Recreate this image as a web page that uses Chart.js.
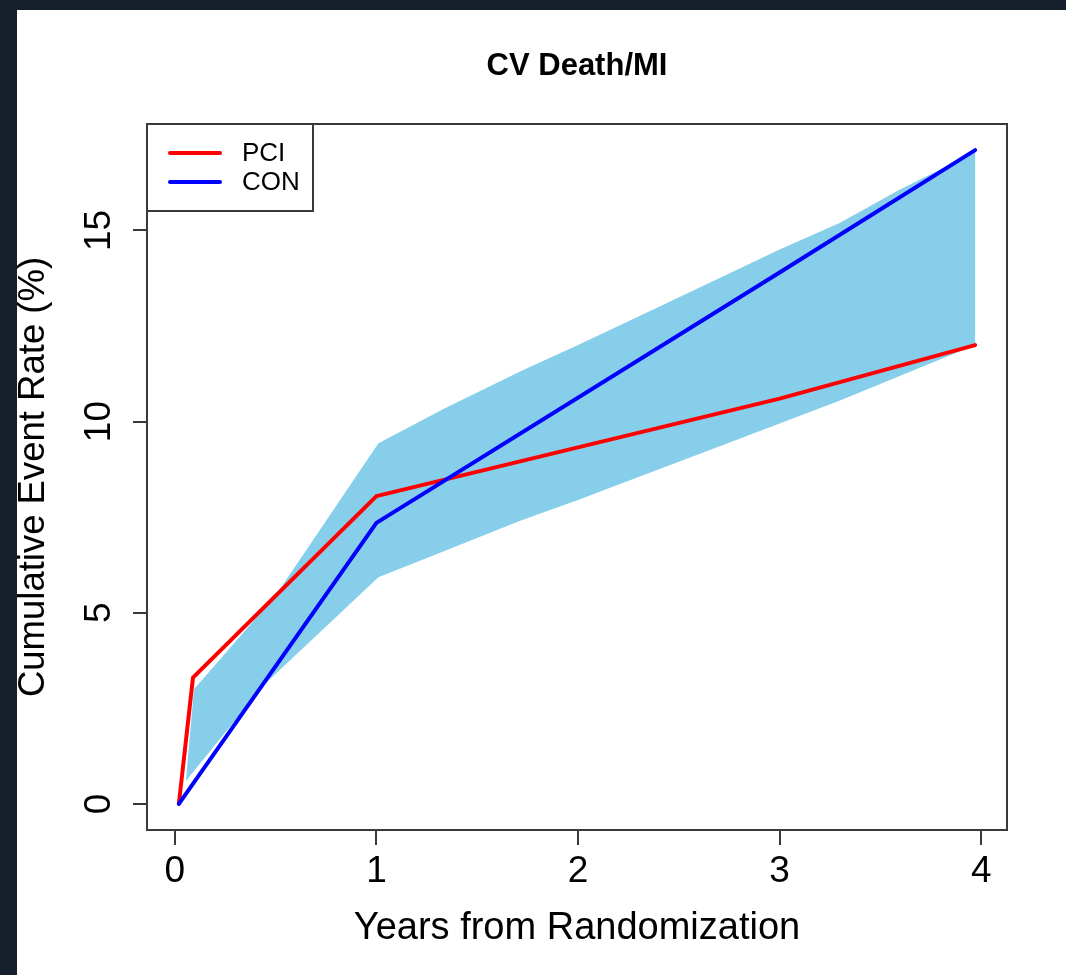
<!DOCTYPE html>
<html>
<head>
<meta charset="utf-8">
<title>CV Death/MI</title>
<script src="https://cdn.jsdelivr.net/npm/chart.js@4.4.1/dist/chart.umd.min.js"></script>
<style>
  html, body { margin: 0; padding: 0; width: 1066px; height: 975px; overflow: hidden; background: #16202d; }
  #sheet { position: absolute; left: 17px; top: 10px; right: 0; bottom: 0; background: #ffffff; }
  #wrap { position: absolute; left: 0; top: 0; width: 1066px; height: 975px; }
</style>
</head>
<body>
<div id="sheet"></div>
<div id="wrap"><canvas id="cvChart" width="1066" height="975"></canvas></div>
<script>
// Texts
const chartTitle = "CV Death/MI";
const xTitle = "Years from Randomization";
const yTitle = "Cumulative Event Rate (%)";

// Axes (R style: data range + 4% each side)
const xTicks = [0, 1, 2, 3, 4];
const yTicks = [0, 5, 10, 15];
const xLimits = [-0.138, 4.128];
const yLimits = [-0.684, 17.784];

// Series
const seriesNames = ["PCI", "CON"];
const pciYears = [0.02, 0.09, 1.0, 3.0, 3.97];
const pciRates = [0, 3.3, 8.05, 10.6, 12.0];
const conYears = [0.02, 1.0, 3.0, 3.97];
const conRates = [0, 7.35, 13.9, 17.1];

// Shaded band (upper and lower edges)
const bandUpperYears = [0.095, 0.5, 1.01, 1.34, 1.71, 2.0, 2.3, 2.7, 3.0, 3.3, 3.59, 3.97];
const bandUpperRates = [3.0, 5.45, 9.43, 10.35, 11.3, 12.0, 12.75, 13.75, 14.5, 15.2, 16.05, 17.05];
const bandLowerYears = [0.055, 0.44, 1.01, 1.35, 1.71, 2.0, 2.3, 2.7, 3.0, 3.3, 3.97];
const bandLowerRates = [0.6, 3.1, 5.93, 6.64, 7.4, 7.95, 8.55, 9.35, 9.95, 10.55, 12.0];

const FONT = "'Liberation Sans', Arial, Helvetica, sans-serif";
const AXIS_COLOR = "#3a3a3a";

function toPoints(xs, ys) {
  return xs.map((x, i) => ({ x: x, y: ys[i] }));
}

// polygon: upper edge left->right, then lower edge right->left
const bandPolygon = toPoints(bandUpperYears, bandUpperRates)
  .concat(toPoints(bandLowerYears, bandLowerRates).reverse());

// Box, title, rotated y tick labels and legend, drawn like base R graphics
const rDecor = {
  id: "rDecor",
  afterDraw(chart) {
    const ctx = chart.ctx;
    const a = chart.chartArea;
    const yScale = chart.scales.y;
    ctx.save();

    // plot box
    ctx.strokeStyle = AXIS_COLOR;
    ctx.lineWidth = 2;
    ctx.strokeRect(a.left, a.top, a.right - a.left, a.bottom - a.top);

    // main title
    ctx.fillStyle = "#000";
    ctx.font = "bold 31px " + FONT;
    ctx.textAlign = "center";
    ctx.textBaseline = "alphabetic";
    ctx.fillText(chartTitle, (a.left + a.right) / 2, 75);

    // y tick labels, vertical
    ctx.font = "37px " + FONT;
    yTicks.forEach((v) => {
      ctx.save();
      ctx.translate(110, yScale.getPixelForValue(v));
      ctx.rotate(-Math.PI / 2);
      ctx.fillText(String(v), 0, 0);
      ctx.restore();
    });

    // legend box top-left
    const boxW = 166, boxH = 87;
    ctx.fillStyle = "#fff";
    ctx.fillRect(a.left, a.top, boxW, boxH);
    ctx.strokeRect(a.left, a.top, boxW, boxH);
    ctx.font = "26px " + FONT;
    ctx.textAlign = "left";
    ctx.textBaseline = "middle";
    const lineDatasets = chart.data.datasets.filter((d) => seriesNames.includes(d.label));
    lineDatasets.forEach((d, i) => {
      const ly = a.top + 29 + i * 29;
      ctx.strokeStyle = d.borderColor;
      ctx.lineWidth = 4;
      ctx.lineCap = "round";
      ctx.beginPath();
      ctx.moveTo(a.left + 23, ly);
      ctx.lineTo(a.left + 73, ly);
      ctx.stroke();
      ctx.fillStyle = "#000";
      ctx.fillText(d.label, a.left + 95, ly + 1);
    });

    ctx.restore();
  },
};

const ctx = document.getElementById("cvChart").getContext("2d");

new Chart(ctx, {
  type: "line",
  data: {
    datasets: [
      {
        label: "band",
        data: bandPolygon,
        backgroundColor: "#87CEEB",
        borderWidth: 0,
        pointRadius: 0,
        fill: "shape",
        tension: 0,
        order: 3,
      },
      {
        label: seriesNames[0],
        data: toPoints(pciYears, pciRates),
        borderColor: "#ff0000",
        borderWidth: 4,
        borderJoinStyle: "round",
        borderCapStyle: "round",
        pointRadius: 0,
        fill: false,
        tension: 0,
        order: 2,
      },
      {
        label: seriesNames[1],
        data: toPoints(conYears, conRates),
        borderColor: "#0000ff",
        borderWidth: 4,
        borderJoinStyle: "round",
        borderCapStyle: "round",
        pointRadius: 0,
        fill: false,
        tension: 0,
        order: 1,
      },
    ],
  },
  options: {
    responsive: false,
    devicePixelRatio: 1,
    animation: false,
    events: [],
    layout: { padding: { top: 124, right: 59, bottom: 0, left: 0 } },
    plugins: {
      legend: { display: false },
      tooltip: { enabled: false },
      title: { display: false },
    },
    scales: {
      x: {
        type: "linear",
        min: xLimits[0],
        max: xLimits[1],
        afterBuildTicks: (s) => { s.ticks = xTicks.map((v) => ({ value: v })); },
        afterFit: (s) => { s.height = 145; },
        grid: { drawOnChartArea: false, drawTicks: true, tickLength: 15, color: AXIS_COLOR, lineWidth: 2 },
        border: { display: false },
        ticks: { color: "#000", font: { size: 37, family: FONT }, padding: 5, maxRotation: 0, autoSkip: false },
        title: { display: true, text: xTitle, color: "#000", font: { size: 38, family: FONT }, padding: { top: 0, bottom: 24 } },
      },
      y: {
        type: "linear",
        min: yLimits[0],
        max: yLimits[1],
        afterBuildTicks: (s) => { s.ticks = yTicks.map((v) => ({ value: v })); },
        afterFit: (s) => { s.width = 147; },
        grid: { drawOnChartArea: false, drawTicks: true, tickLength: 14, color: AXIS_COLOR, lineWidth: 2 },
        border: { display: false },
        ticks: { display: false },
        title: { display: true, text: yTitle, color: "#000", font: { size: 36.5, family: FONT }, padding: { top: 12, bottom: 0 } },
      },
    },
  },
  plugins: [rDecor],
});
</script>
</body>
</html>
